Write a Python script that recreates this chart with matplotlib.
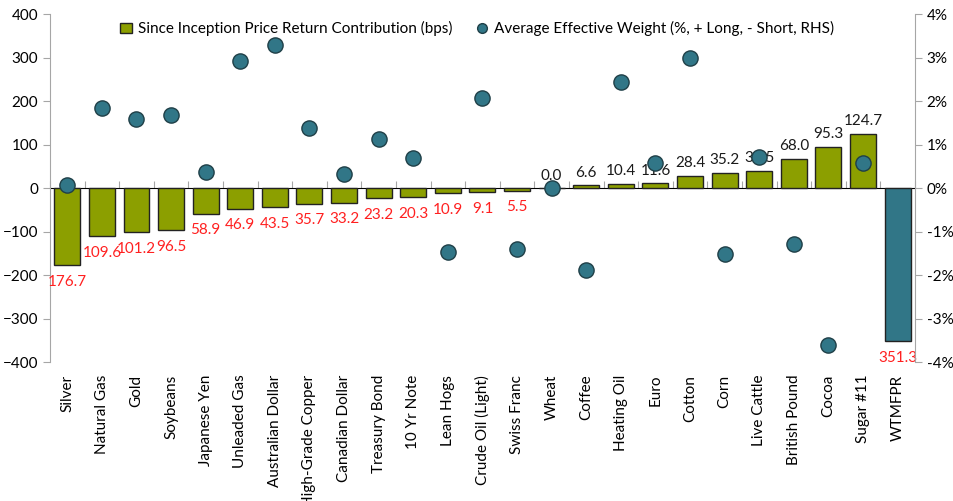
import numpy as np
import matplotlib
matplotlib.use("Agg")
import matplotlib.pyplot as plt
from matplotlib.ticker import FuncFormatter
from matplotlib.lines import Line2D

plt.rcParams['font.family'] = ['Lato', 'DejaVu Sans']

# Data
categories = ["Silver", "Natural Gas", "Gold", "Soybeans", "Japanese Yen", "Unleaded Gas",
              "Australian Dollar", "High-Grade Copper", "Canadian Dollar", "Treasury Bond",
              "10 Yr Note", "Lean Hogs", "Crude Oil (Light)", "Swiss Franc", "Wheat", "Coffee",
              "Heating Oil", "Euro", "Cotton", "Corn", "Live Cattle", "British Pound", "Cocoa",
              "Sugar #11", "WTMFPR"]
contrib_bps = [-176.7, -109.6, -101.2, -96.5, -58.9, -46.9, -43.5, -35.7, -33.2, -23.2,
               -20.3, -10.9, -9.1, -5.5, 0.0, 6.6, 10.4, 11.6, 28.4, 35.2, 39.5, 68.0,
               95.3, 124.7, -351.3]
weight_pct = [0.07, 1.83, 1.59, 1.68, 0.36, 2.92, 3.29, 1.39, 0.33, 1.13, 0.70, -1.46,
              2.08, -1.41, 0.0, -1.87, 2.44, 0.57, 3.00, -1.52, 0.71, -1.28, -3.61, 0.57,
              np.nan]

green = "#8c9f00"
teal = "#317687"
grey = "#a6a6a6"

fig = plt.figure(figsize=(9.54, 5.01), dpi=100)
ax = fig.add_axes([0.0524, 0.277, 0.9066, 0.695])

x = np.arange(len(categories))
colors = [green] * (len(categories) - 1) + [teal]
bars = ax.bar(x, contrib_bps, width=0.75, color=colors, edgecolor="#222222",
              linewidth=1.0, zorder=2, label="Since Inception Price Return Contribution (bps)")

# data labels: negatives in red (shown as absolute), positives in black
for xi, v in zip(x, contrib_bps):
    if v < 0:
        ax.annotate(f"{abs(v):.1f}", (xi, v), xytext=(0, -7), textcoords="offset points",
                    ha="center", va="top", color="#ff2020", fontsize=11, zorder=3)
    else:
        ax.annotate(f"{v:.1f}", (xi, v), xytext=(0, 4), textcoords="offset points",
                    ha="center", va="bottom", color="#1a1a1a", fontsize=11, zorder=3)

ax.set_xlim(-0.5, len(categories) - 0.5)
ax.set_ylim(-400, 400)
ax.set_yticks(np.arange(-400, 401, 100))
ax.set_xticks(x)
ax.set_xticklabels(categories, rotation=90, fontsize=11, va="top")
ax.tick_params(axis="x", length=0, pad=9)
ax.tick_params(axis="y", direction="out", length=5, color=grey, labelsize=11)

for s in ["top", "right", "bottom"]:
    ax.spines[s].set_visible(False)
ax.spines["left"].set_color(grey)

# zero line with category-boundary ticks
zero = ax.secondary_xaxis(0.5)
zero.set_xticks(np.arange(-0.5, len(categories), 1.0))
zero.set_xticklabels([])
zero.tick_params(length=5, color=grey, direction="out")
zero.spines["bottom"].set_color(grey)

# secondary axis dots
ax2 = ax.twinx()
dots = ax2.scatter(x, weight_pct, s=120, color=teal, edgecolor="#1f3f47", linewidth=1.0,
                   zorder=4)
ax2.set_ylim(-4, 4)
ax2.set_yticks(np.arange(-4, 5, 1))
ax2.yaxis.set_major_formatter(FuncFormatter(lambda v, p: f"{v:.0f}%"))
ax2.tick_params(axis="y", direction="out", length=5, color=grey, labelsize=11)
for s in ["top", "left", "bottom"]:
    ax2.spines[s].set_visible(False)
ax2.spines["right"].set_color(grey)

dot_handle = Line2D([], [], linestyle="none", marker="o", markersize=7,
                    markerfacecolor=teal, markeredgecolor="#1f3f47")
fig.legend([bars, dot_handle],
           [bars.get_label(), "Average Effective Weight (%, + Long, - Short, RHS)"],
           loc="upper center", bbox_to_anchor=(0.5, 0.985), ncol=2, frameon=False,
           fontsize=11, handlelength=0.8, handletextpad=0.4, columnspacing=1.5)

fig.savefig("out.png", dpi=100)
